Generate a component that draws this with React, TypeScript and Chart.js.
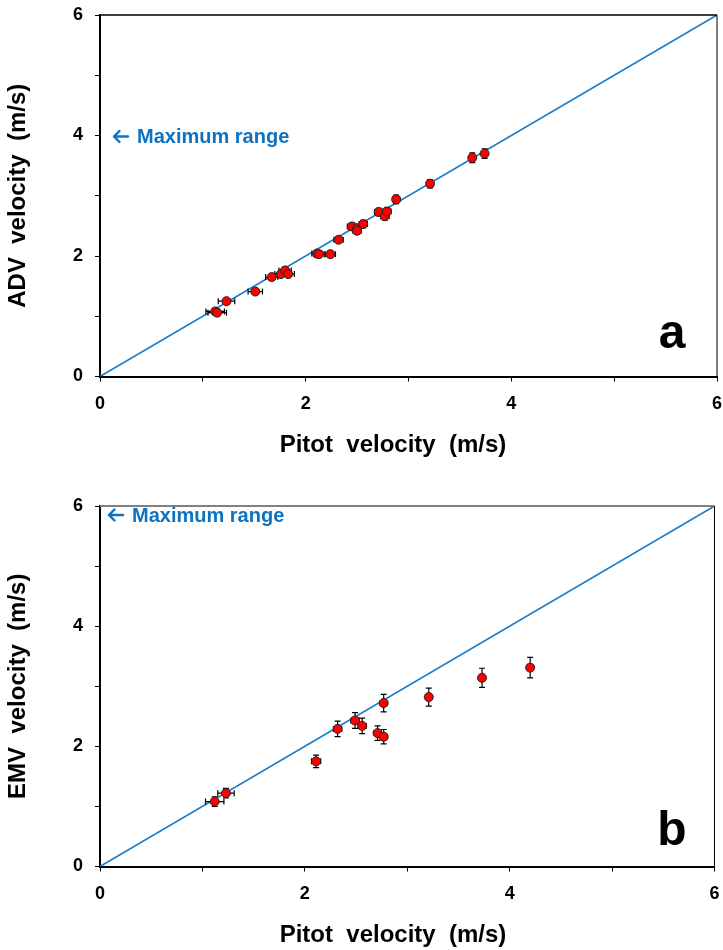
import React, { useEffect, useRef } from "react";
import { Chart, registerables } from "chart.js";

Chart.register(...registerables);

// ---------- Data ----------
const tickValues = [0, 1, 2, 3, 4, 5, 6];
const tickLabels = ["0", "", "2", "", "4", "", "6"];
const xTitle = "Pitot  velocity  (m/s)";

// Panel a: ADV vs Pitot
const advPitot = [1.12, 1.14, 1.23, 1.51, 1.67, 1.76, 1.8, 1.83, 2.11, 2.13, 2.24, 2.32, 2.45, 2.5, 2.5, 2.56, 2.71, 2.77, 2.79, 2.88, 3.21, 3.62, 3.74];
const advVel = [1.08, 1.06, 1.25, 1.41, 1.65, 1.7, 1.76, 1.7, 2.04, 2.03, 2.03, 2.27, 2.49, 2.46, 2.42, 2.53, 2.73, 2.66, 2.74, 2.94, 3.2, 3.63, 3.7];
const advPitotErr = [0.09, 0.09, 0.08, 0.07, 0.06, 0.06, 0.06, 0.06, 0.05, 0.05, 0.05, 0.045, 0.045, 0.04, 0.04, 0.04, 0.04, 0.04, 0.04, 0.035, 0.03, 0.03, 0.03];
const advVelErr = [0.04, 0.04, 0.04, 0.04, 0.05, 0.05, 0.05, 0.05, 0.05, 0.05, 0.05, 0.05, 0.06, 0.06, 0.06, 0.06, 0.06, 0.06, 0.06, 0.07, 0.07, 0.08, 0.08];

// Panel b: EMV vs Pitot
const emvPitot = [1.12, 1.23, 2.11, 2.32, 2.49, 2.56, 2.71, 2.77, 2.77, 3.21, 3.73, 4.2];
const emvVel = [1.08, 1.22, 1.75, 2.29, 2.43, 2.34, 2.22, 2.16, 2.72, 2.82, 3.14, 3.31];
const emvPitotErr = [0.09, 0.08, 0.045, 0.04, 0.04, 0.04, 0.035, 0.035, 0.035, 0.03, 0.03, 0.03];
const emvVelErr = [0.08, 0.08, 0.105, 0.13, 0.13, 0.13, 0.12, 0.12, 0.145, 0.15, 0.16, 0.17];

// 1:1 line and maximum range of each instrument
const oneToOne = [0, 6];
const advMaxRange = 4;
const emvMaxRange = 6;

const FONT = "'Liberation Sans', Arial, Helvetica, sans-serif";
const BLUE_LINE = "#1B7BC8";
const BLUE_TEXT = "#0D72C2";

type PanelProps = {
  top: number;
  height: number;
  padTop: number;
  padRight: number;
  xScaleHeight: number;
  xs: number[];
  ys: number[];
  xErr: number[];
  yErr: number[];
  yTitle: string;
  letter: string;
  letterY: number;
  maxRange: number;
  rangeDx: number;
  rangeDy: number;
  topBorderColor: string;
  topBorderWidth: number;
};

function Panel(p: PanelProps) {
  const ref = useRef<HTMLCanvasElement | null>(null);
  useEffect(() => {
    if (!ref.current) return;
    const pts = p.xs.map((x, i) => ({ x, y: p.ys[i] }));
    const linePts = oneToOne.map((v) => ({ x: v, y: v }));

    const errorBars = {
      id: "errorBars",
      beforeDatasetDraw(chart: any, args: any) {
        if (args.index !== 0) return;
        const ctx = chart.ctx;
        const xs = chart.scales.x;
        const ys = chart.scales.y;
        ctx.save();
        ctx.strokeStyle = "#000";
        ctx.lineWidth = 1.2;
        const cap = 3;
        pts.forEach((pt, i) => {
          const px = xs.getPixelForValue(pt.x);
          const py = ys.getPixelForValue(pt.y);
          const x1 = xs.getPixelForValue(pt.x - p.xErr[i]);
          const x2 = xs.getPixelForValue(pt.x + p.xErr[i]);
          const y1 = ys.getPixelForValue(pt.y - p.yErr[i]);
          const y2 = ys.getPixelForValue(pt.y + p.yErr[i]);
          ctx.beginPath();
          ctx.moveTo(x1, py); ctx.lineTo(x2, py);
          ctx.moveTo(x1, py - cap); ctx.lineTo(x1, py + cap);
          ctx.moveTo(x2, py - cap); ctx.lineTo(x2, py + cap);
          ctx.moveTo(px, y1); ctx.lineTo(px, y2);
          ctx.moveTo(px - cap, y1); ctx.lineTo(px + cap, y1);
          ctx.moveTo(px - cap, y2); ctx.lineTo(px + cap, y2);
          ctx.stroke();
        });
        ctx.restore();
      },
    };

    const decor = {
      id: "decor",
      afterDraw(chart: any) {
        const ctx = chart.ctx;
        const a = chart.chartArea;
        const xs = chart.scales.x;
        const ys = chart.scales.y;
        ctx.save();
        // top border
        ctx.strokeStyle = p.topBorderColor;
        ctx.lineWidth = p.topBorderWidth;
        ctx.beginPath();
        ctx.moveTo(a.left, a.top);
        ctx.lineTo(a.right, a.top);
        ctx.stroke();
        // right border
        ctx.strokeStyle = "#000";
        ctx.lineWidth = 1;
        ctx.beginPath();
        ctx.moveTo(a.right, a.top);
        ctx.lineTo(a.right, a.bottom);
        ctx.stroke();
        // x axis title
        ctx.fillStyle = "#000";
        ctx.font = `bold 24px ${FONT}`;
        ctx.textAlign = "center";
        ctx.textBaseline = "middle";
        ctx.fillText(xTitle, 393, a.bottom + 69);
        // maximum range note: arrow + text
        const ax = xs.getPixelForValue(0) + p.rangeDx;
        const ay = ys.getPixelForValue(p.maxRange) + p.rangeDy;
        ctx.strokeStyle = BLUE_TEXT;
        ctx.lineWidth = 2.4;
        ctx.lineCap = "round";
        ctx.lineJoin = "round";
        ctx.beginPath();
        ctx.moveTo(ax + 15, ay);
        ctx.lineTo(ax + 1, ay);
        ctx.moveTo(ax + 6.5, ay - 5.5);
        ctx.lineTo(ax + 1, ay);
        ctx.lineTo(ax + 6.5, ay + 5.5);
        ctx.stroke();
        ctx.fillStyle = BLUE_TEXT;
        ctx.font = `bold 20px ${FONT}`;
        ctx.textAlign = "left";
        ctx.textBaseline = "middle";
        ctx.fillText("Maximum range", ax + 24, ay + 1);
        // panel letter
        ctx.fillStyle = "#000";
        ctx.font = `bold 48px ${FONT}`;
        ctx.textAlign = "center";
        ctx.textBaseline = "alphabetic";
        ctx.fillText(p.letter, 672, p.letterY);
        ctx.restore();
      },
    };

    const zeroPad = (s: any) => {
      s.paddingTop = 0;
      s.paddingBottom = 0;
      s.paddingLeft = 0;
      s.paddingRight = 0;
    };

    const axisCommon = () => ({
      type: "linear" as const,
      min: 0,
      max: 6,
      afterBuildTicks: (scale: any) => {
        scale.ticks = tickValues.map((v) => ({ value: v }));
      },
      ticks: {
        callback: (v: any) => tickLabels[tickValues.indexOf(Number(v))] ?? "",
        color: "#000",
        font: { family: FONT, size: 18, weight: "bold" as const },
        padding: 12,
        autoSkip: false,
        maxRotation: 0,
      },
      grid: {
        drawOnChartArea: false,
        drawTicks: true,
        tickLength: 5,
        color: "#000",
        lineWidth: 1,
      },
      border: { display: true, color: "#000", width: 2 },
    });

    const chart = new Chart(ref.current, {
      type: "scatter",
      data: {
        datasets: [
          {
            type: "scatter",
            data: pts,
            order: 0,
            pointRadius: 4.5,
            pointHoverRadius: 4.5,
            pointBackgroundColor: "#FF0000",
            pointBorderColor: "#222",
            pointBorderWidth: 1,
          },
          {
            type: "line",
            data: linePts,
            order: 1,
            borderColor: BLUE_LINE,
            borderWidth: 1.6,
            pointRadius: 0,
            fill: false,
          } as any,
        ],
      },
      options: {
        responsive: false,
        animation: false,
        events: [],
        layout: { padding: { top: p.padTop, right: p.padRight, left: 0, bottom: 0 } },
        plugins: { legend: { display: false }, tooltip: { enabled: false } },
        scales: {
          x: {
            ...axisCommon(),
            position: "bottom",
            title: { display: false },
            afterFit: (s: any) => { s.height = p.xScaleHeight; zeroPad(s); },
          },
          y: {
            ...axisCommon(),
            position: "left",
            title: {
              display: true,
              text: p.yTitle,
              color: "#000",
              font: { family: FONT, size: 24, weight: "bold", lineHeight: 1.2 },
              padding: { top: 3.9, bottom: 0 },
            },
            afterFit: (s: any) => { s.width = 100; zeroPad(s); },
          },
        },
      } as any,
      plugins: [errorBars, decor],
    });
    return () => chart.destroy();
  }, []);

  return (
    <canvas
      ref={ref}
      width={723}
      height={p.height}
      style={{ position: "absolute", left: 0, top: p.top, width: 723, height: p.height }}
    />
  );
}

export default function App() {
  return (
    <div style={{ position: "absolute", left: 0, top: 0, width: 723, height: 950, background: "#fff" }}>
      <Panel
        top={0}
        height={475}
        padTop={15}
        padRight={6}
        xScaleHeight={98.5}
        xs={advPitot}
        ys={advVel}
        xErr={advPitotErr}
        yErr={advVelErr}
        yTitle="ADV  velocity  (m/s)"
        letter="a"
        letterY={348}
        maxRange={advMaxRange}
        rangeDx={13}
        rangeDy={1}
        topBorderColor="#000"
        topBorderWidth={1.5}
      />
      <Panel
        top={475}
        height={475}
        padTop={31}
        padRight={8.5}
        xScaleHeight={83.5}
        xs={emvPitot}
        ys={emvVel}
        xErr={emvPitotErr}
        yErr={emvVelErr}
        yTitle="EMV  velocity  (m/s)"
        letter="b"
        letterY={370}
        maxRange={emvMaxRange}
        rangeDx={8}
        rangeDy={9}
        topBorderColor="#808080"
        topBorderWidth={2}
      />
    </div>
  );
}
